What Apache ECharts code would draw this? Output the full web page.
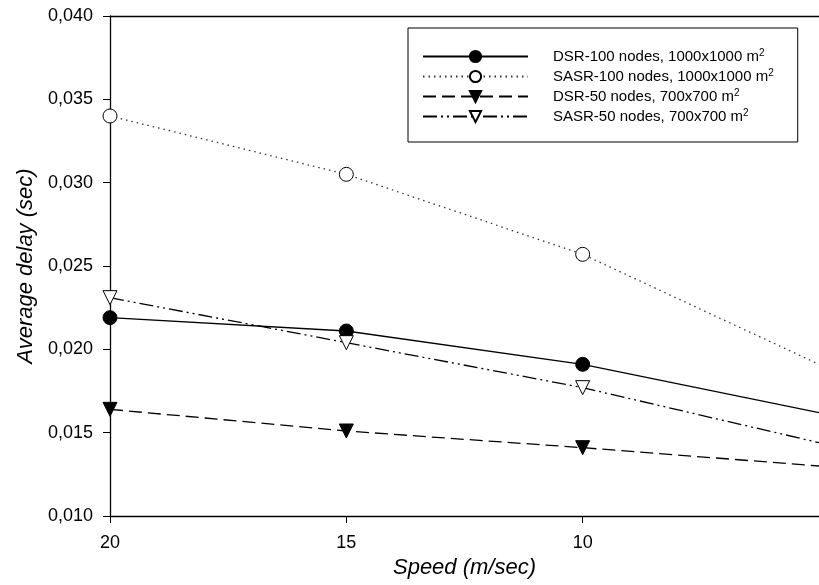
<!DOCTYPE html>
<html>
<head>
<meta charset="utf-8">
<script src="https://cdn.jsdelivr.net/npm/echarts@6/dist/echarts.min.js"></script>
<style>html,body{margin:0;padding:0;background:#fff}#c{width:819px;height:585px}</style>
</head>
<body>
<div id="c"></div>
<script>
var speeds = [20, 15, 10, 5];
var dsr100 = [0.0219, 0.0211, 0.0191, 0.0162];
var sasr100 = [0.0340, 0.0305, 0.0257, 0.0191];
var dsr50 = [0.0164, 0.0151, 0.0141, 0.0130];
var sasr50 = [0.0231, 0.0204, 0.0177, 0.0144];
var seriesNames = ['DSR-100 nodes, 1000x1000 m', 'SASR-100 nodes, 1000x1000 m', 'DSR-50 nodes, 700x700 m', 'SASR-50 nodes, 700x700 m'];
var xTicks = [20, 15, 10];
var yTicks = [0.010, 0.015, 0.020, 0.025, 0.030, 0.035, 0.040];

function pairs(vals){ return speeds.map(function(s,i){ return [s, vals[i]]; }); }

var FONT = 'Liberation Sans';
var chart = echarts.init(document.getElementById('c'));
function mk(name, vals, symbol, rot, fill, dash, size, lineColor){
  return {
    name: name, type: 'line', data: pairs(vals),
    symbol: symbol, symbolRotate: rot,
    symbolSize: function(v){ return v[0] < 6 ? 0 : size; },
    showAllSymbol: true, clip: true,
    itemStyle: {color: fill, borderColor: '#000', borderWidth: 1},
    lineStyle: {color: lineColor || '#000', width: 1.3, type: dash},
    emphasis: {disabled: true}, animation: false, z: 3
  };
}
chart.setOption({
  animation: false,
  backgroundColor: '#fff',
  grid: {left: 110, top: 16, bottom: 69, right: -8, containLabel: false},
  legend: {
    orient: 'vertical', left: 408, top: 28,
    padding: [20, 24, 16, 14],
    borderColor: '#000', borderWidth: 1,
    itemWidth: 105, itemHeight: 14, itemGap: 2,
    data: seriesNames,
    textStyle: {fontFamily: FONT, fontSize: 15, color: '#000', padding: [0, 0, 0, 20], lineHeight: 17,
      rich: {sup: {fontSize: 10, fontFamily: FONT, color: '#000', verticalAlign: 'top', padding: [0,0,8,0], lineHeight: 17},
             n: {fontSize: 15, fontFamily: FONT, color: '#000', lineHeight: 17}}},
    formatter: function(n){ return '{n|' + n + '}{sup|2}'; }
  },
  xAxis: [{
    type: 'value', inverse: true, min: 5, max: 20, interval: 5,
    name: 'Speed (m/sec)', nameLocation: 'middle', nameGap: 40,
    nameTextStyle: {fontFamily: FONT, fontSize: 22, fontStyle: 'italic', color: '#000'},
    axisLine: {show: true, onZero: false, lineStyle: {color: '#000', width: 1.3}},
    axisTick: {show: true, inside: false, length: 7, lineStyle: {color: '#000'}, customValues: xTicks},
    axisLabel: {fontFamily: FONT, fontSize: 18, color: '#000', margin: 18, customValues: xTicks},
    splitLine: {show: false}
  }, {
    type: 'value', position: 'top', inverse: true, min: 5, max: 20,
    axisLine: {show: true, onZero: false, lineStyle: {color: '#000', width: 1.3}},
    axisTick: {show: false}, axisLabel: {show: false}, splitLine: {show: false}
  }],
  yAxis: {
    type: 'value', min: 0.010, max: 0.040, interval: 0.005,
    name: 'Average delay (sec)', nameLocation: 'middle', nameGap: 66,
    nameTextStyle: {fontFamily: FONT, fontSize: 22, fontStyle: 'italic', color: '#000'},
    axisLine: {show: true, onZero: false, lineStyle: {color: '#000', width: 1.3}},
    axisTick: {show: true, inside: false, length: 7, lineStyle: {color: '#000'}, customValues: yTicks},
    axisLabel: {fontFamily: FONT, fontSize: 18, color: '#000', margin: 17, customValues: yTicks,
      formatter: function(v){ return v.toFixed(3).replace('.', ','); }},
    splitLine: {show: false}
  },
  series: [
    mk(seriesNames[0], dsr100, 'circle', 0, '#000', 'solid', 14),
    mk(seriesNames[1], sasr100, 'circle', 0, '#fff', [1.5, 4], 14, '#333'),
    mk(seriesNames[2], dsr50, 'triangle', 180, '#000', [13, 6], 14),
    mk(seriesNames[3], sasr50, 'triangle', 180, '#fff', [14, 4, 2, 4, 2, 4], 14)
  ]
});
</script>
</body>
</html>
